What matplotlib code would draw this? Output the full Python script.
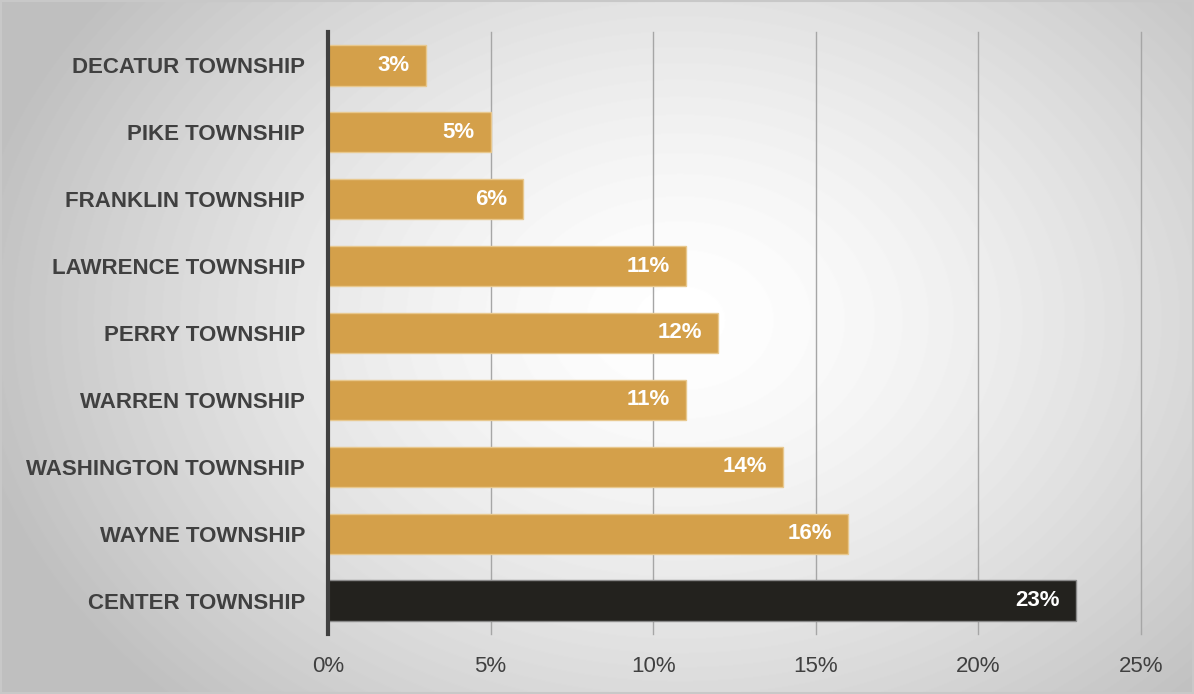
import matplotlib.pyplot as plt
import numpy as np

plt.rcParams['font.family'] = ['Liberation Sans', 'DejaVu Sans']

townships = ['DECATUR TOWNSHIP', 'PIKE TOWNSHIP', 'FRANKLIN TOWNSHIP',
             'LAWRENCE TOWNSHIP', 'PERRY TOWNSHIP', 'WARREN TOWNSHIP',
             'WASHINGTON TOWNSHIP', 'WAYNE TOWNSHIP', 'CENTER TOWNSHIP']
shares = [3, 5, 6, 11, 12, 11, 14, 16, 23]
xticks = [0, 5, 10, 15, 20, 25]

gold = '#D4A04A'
dark = '#23221E'
textcol = '#404040'

fig = plt.figure(figsize=(11.94, 6.94), dpi=100)

# radial gradient background
bg = fig.add_axes([0, 0, 1, 1], zorder=-10)
yy, xx = np.mgrid[0:694, 0:1194]
r = np.sqrt(((xx - 680) / 720.0) ** 2 + ((yy - 320) / 540.0) ** 2)
val = np.clip(1.0 - 0.25 * r ** 1.5, 0.75, 1.0)
bg.imshow(val, cmap='gray', vmin=0, vmax=1, aspect='auto', extent=[0, 1, 0, 1])
bg.add_patch(plt.Rectangle((0.001, 0.001), 0.998, 0.997, fill=False,
                           edgecolor='#c8c8c8', lw=1.5, transform=bg.transAxes))
bg.set_axis_off()

ax = fig.add_axes([0.2747, 0.0865, 0.6809, 0.8674])
ax.patch.set_alpha(0)

y = np.arange(len(townships))
colors = [gold] * (len(townships) - 1) + [dark]
edges = ['#e8c88e'] * (len(townships) - 1) + ['#8a8a8a']
ax.barh(y, shares, height=0.6, color=colors, edgecolor=edges, linewidth=1, zorder=3)

for yi, v in zip(y, shares):
    ax.text(v - 0.5, yi, f'{v}%', ha='right', va='center', color='white',
            fontsize=16, fontweight='bold', zorder=4)

ax.set_xlim(0, 25)
ax.set_ylim(8.5, -0.5)
ax.set_xticks(xticks)
ax.set_xticklabels([f'{t}%' for t in xticks], fontsize=16, color=textcol)
ax.set_yticks(y)
ax.set_yticklabels(townships, fontsize=16, fontweight='bold', color=textcol)
ax.tick_params(axis='y', length=0, pad=16.5)
ax.tick_params(axis='x', length=0, pad=16)

ax.grid(axis='x', color='#a6a6a6', linewidth=1, zorder=0)
for gl in ax.get_xgridlines():
    gl.set_clip_on(False)
for s in ['top', 'right', 'bottom']:
    ax.spines[s].set_visible(False)
ax.spines['left'].set_color(textcol)
ax.spines['left'].set_linewidth(3)
ax.spines['left'].set_zorder(5)

fig.savefig('out.png', dpi=100)
